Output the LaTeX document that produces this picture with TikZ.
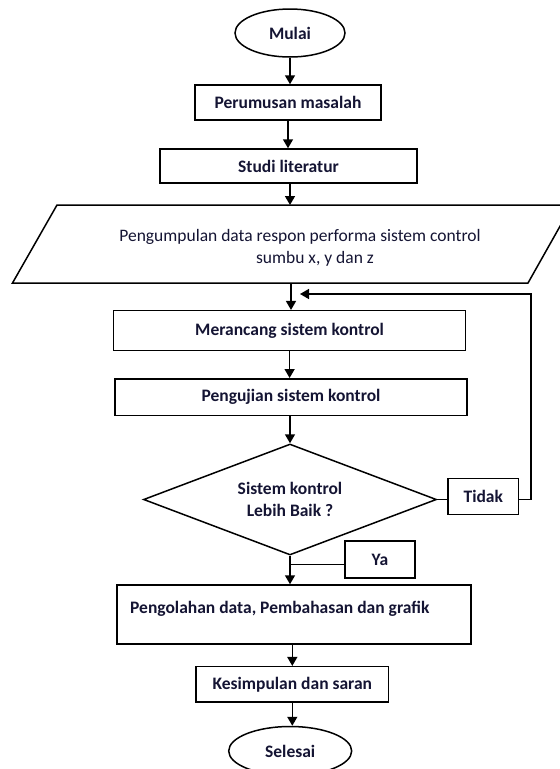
\documentclass[tikz,border=0pt]{standalone}
\usepackage{fontspec}
\setmainfont{Carlito}
\usetikzlibrary{shapes.geometric,arrows.meta}
\definecolor{txt}{rgb}{0.08,0.08,0.2}
\begin{document}
\begin{tikzpicture}[x=1pt,y=-1pt,
  every node/.style={font=\fontsize{17.5}{21.6}\selectfont\bfseries, text=txt, inner sep=0pt},
  boxx/.style={draw, line width=1.5pt, rectangle},
  oval/.style={draw, line width=1.5pt, ellipse},
  arr/.style={line width=1.5pt, -{Triangle[length=9pt,width=10pt]}},
  ln/.style={line width=1.5pt}]
\useasboundingbox (0,0) rectangle (560,769);
\node[oval, minimum width=110pt, minimum height=48pt] (start) at (290,33) {Mulai};
\node[boxx, minimum width=186pt, minimum height=35pt] (p1) at (288,102.5) {Perumusan masalah};
\node[boxx, minimum width=257pt, minimum height=34pt] (p2) at (288.5,166) {Studi literatur};
% parallelogram
\coordinate (pa) at (57,205);
\coordinate (pb) at (572,205);
\coordinate (pc) at (528,283);
\coordinate (pd) at (12.5,283);
\draw[ln] (pa) -- (pb) -- (pc) -- (pd) -- cycle;
\coordinate (parTop) at (290,205);
\coordinate (parBot) at (291,283);
\node[font=\fontsize{17.5}{21.6}\selectfont] (pt1) at (300,237) {Pengumpulan data respon performa sistem control};
\node[font=\fontsize{17.5}{21.6}\selectfont] (pt2) at (315,259) {sumbu x, y dan z};
\node[boxx, minimum width=352pt, minimum height=40pt] (m1) at (289.6,330.7) {Merancang sistem kontrol};
\node[boxx, minimum width=352pt, minimum height=36.5pt] (m2) at (291,397) {Pengujian sistem kontrol};
\node[draw, line width=1.5pt, diamond, shape aspect=2.64, minimum width=293pt, minimum height=111pt, align=center] (dia) at (290,499.5) {Sistem kontrol\\Lebih Baik ?};
\node[boxx, minimum width=70.6pt, minimum height=35.6pt] (tidak) at (483.3,496.5) {Tidak};
\node[boxx, minimum width=70pt, minimum height=37pt] (ya) at (380,559.5) {Ya};
\node[boxx, minimum width=354pt, minimum height=59pt] (p3) at (294,614.5) {};
\node[anchor=west] (p3t) at (130,609) {Pengolahan data, Pembahasan dan grafik};
\node[boxx, minimum width=192.6pt, minimum height=35.3pt] (kes) at (292.3,684.3) {Kesimpulan dan saran};
\node[oval, minimum width=123pt, minimum height=49pt] (sel) at (290.2,751) {Selesai};
\coordinate (fbEnd) at (300,294);
\coordinate (fbCorner) at (531,294);
\coordinate (yaJ) at (290,564.3);
% connectors
\draw[arr] (start.south) -- (start.south |- p1.north);
\draw[arr] (p1.south) -- (p1.south |- p2.north);
\draw[arr] (p2.south -| parTop) -- (parTop);
\draw[arr] (parBot) -- (parBot |- m1.north);
\draw[arr] (m1.south) -- (m1.south |- m2.north);
\draw[arr] (m2.south -| dia.north) -- (dia.north);
\draw[ln] (dia.east) -- (dia.east -| tidak.west);
\draw[arr] (tidak.east |- dia.east) -| (fbCorner) -- (fbEnd);
\draw[arr] (dia.south) -- (dia.south |- p3.north);
\draw[ln] ([yshift=-4.8pt]ya.west) -- (yaJ);
\draw[arr] (p3.south -| kes.north) -- (kes.north);
\draw[arr] (kes.south) -- (kes.south |- sel.north);
\end{tikzpicture}
\end{document}
